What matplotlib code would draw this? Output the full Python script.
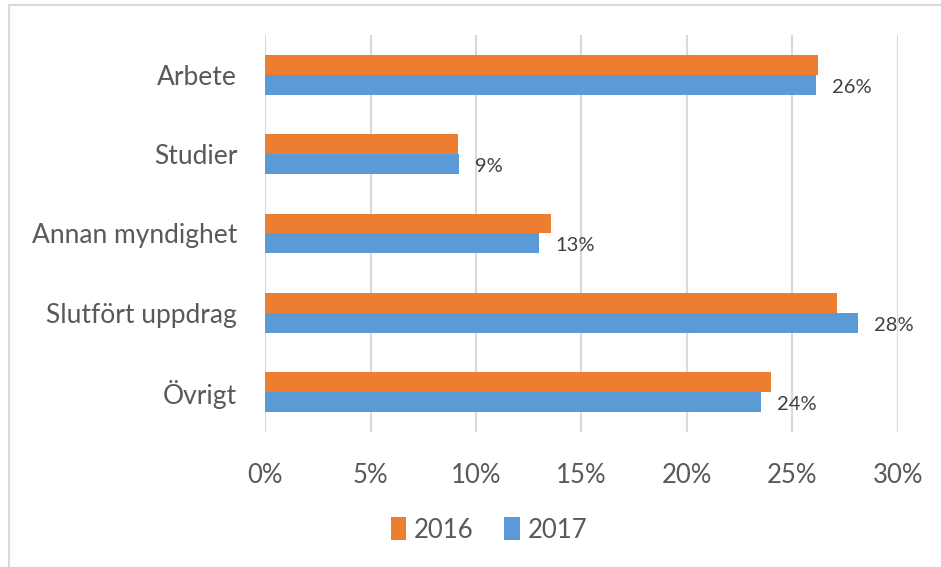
import numpy as np
import matplotlib.pyplot as plt
from matplotlib.lines import Line2D

# data
categories = ['Arbete', 'Studier', 'Annan myndighet', 'Slutfört uppdrag', 'Övrigt']
values_2016 = [26.2, 9.15, 13.55, 27.1, 24.0]
values_2017 = [26.1, 9.2, 13.0, 28.1, 23.5]
labels_2017 = ['26%', '9%', '13%', '28%', '24%']
xticks = [0, 5, 10, 15, 20, 25, 30]

c2016 = '#ED7D31'
c2017 = '#5B9BD5'
grid_c = '#D9D9D9'
text_c = '#595959'

plt.rcParams['font.family'] = ['Lato', 'DejaVu Sans']

fig = plt.figure(figsize=(9.41, 5.67), dpi=100)
ax = fig.add_axes([265/941, 1-432/567, (898-265)/941, (432-35)/567])

y = np.arange(len(categories))
h = 0.25
ax.barh(y - h/2, values_2016, height=h, color=c2016, label='2016', zorder=3)
ax.barh(y + h/2, values_2017, height=h, color=c2017, label='2017', zorder=3)

for yi, v, lab in zip(y, values_2017, labels_2017):
    ax.text(v + 0.75, yi + h/2 + 0.03, lab, va='center', ha='left',
            fontsize=14.5, color='#404040')

ax.set_xlim(0, 30)
ax.set_ylim(len(categories) - 0.5, -0.5)
ax.set_xticks(xticks)
ax.set_xticklabels([f'{t}%' for t in xticks], fontsize=18.5, color=text_c)
ax.set_yticks(y)
ax.set_yticklabels(categories, fontsize=19, color=text_c)
ax.tick_params(length=0)
ax.tick_params(axis='x', pad=22)
ax.tick_params(axis='y', pad=20)
ax.grid(axis='x', color=grid_c, linewidth=1.5, zorder=0)
for s in ax.spines.values():
    s.set_visible(False)

ax.legend(loc='center', bbox_to_anchor=(489/941, 1-530/567),
          bbox_transform=fig.transFigure, ncol=2, frameon=False,
          fontsize=18.5, handlelength=0.6, handleheight=1.0,
          handletextpad=0.3, columnspacing=1.2, labelcolor=text_c)

# outer chart border (top and left only visible)
fig.add_artist(Line2D([9/941, 1], [1-5/567, 1-5/567], color=grid_c, linewidth=1.5))
fig.add_artist(Line2D([9/941, 9/941], [0, 1-5/567], color=grid_c, linewidth=1.5))

fig.savefig('out.png', dpi=100)
